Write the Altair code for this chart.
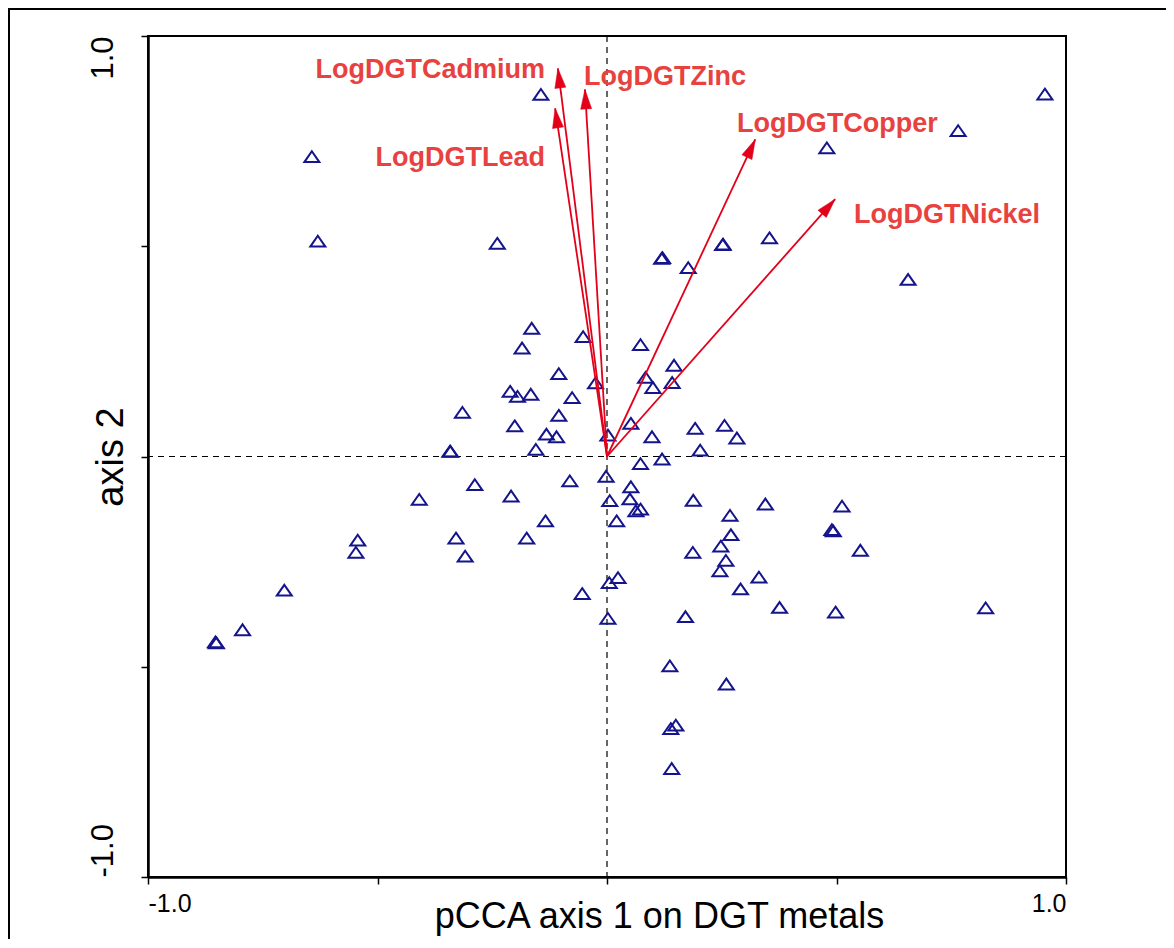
import math
import altair as alt
import pandas as pd

# ---------------- data ----------------
site_x = [-0.144, 0.954, 0.765, 0.479, -0.643, -0.630, -0.239, 0.253, 0.354, 0.121,
          0.177, 0.656, -0.164, -0.052, 0.073, -0.185, 0.146, -0.105, 0.084, -0.025,
          0.142, 0.100, -0.211, -0.195, -0.166, -0.076, -0.315, -0.105, -0.201, -0.132,
          -0.110, 0.002, 0.052, 0.192, 0.256, 0.098, 0.283, -0.155, -0.342, 0.203,
          0.120, 0.073, -0.002, -0.081, -0.288, 0.052, -0.409, -0.209, 0.006, 0.050,
          0.188, 0.345, 0.512, 0.073, 0.063, 0.268, -0.134, 0.021, 0.493, 0.490,
          0.270, -0.543, -0.547, -0.329, -0.175, -0.309, 0.248, 0.187, 0.552, 0.259,
          0.246, 0.331, 0.291, 0.024, 0.005, -0.054, -0.703, 0.376, 0.498, 0.825,
          0.002, 0.171, -0.794, -0.851, 0.137, 0.260, 0.150, 0.139, 0.141, 0.119,
          -0.853, 0.252, -0.341]
site_y = [0.861, 0.862, 0.775, 0.734, 0.713, 0.512, 0.507, 0.505, 0.520, 0.473,
          0.449, 0.421, 0.305, 0.285, 0.266, 0.258, 0.217, 0.197, 0.188, 0.175,
          0.176, 0.164, 0.155, 0.143, 0.148, 0.140, 0.105, 0.098, 0.073, 0.053,
          0.047, 0.051, 0.079, 0.067, 0.074, 0.047, 0.044, 0.017, 0.013, 0.015,
          -0.006, -0.017, -0.047, -0.058, -0.067, -0.072, -0.102, -0.094, -0.105, -0.101,
          -0.104, -0.113, -0.118, -0.125, -0.129, -0.140, -0.153, -0.153, -0.177, -0.174,
          -0.186, -0.199, -0.228, -0.194, -0.194, -0.237, -0.213, -0.228, -0.223, -0.247,
          -0.272, -0.287, -0.315, -0.288, -0.300, -0.326, -0.318, -0.359, -0.370, -0.360,
          -0.385, -0.381, -0.412, -0.443, -0.498, -0.541, -0.639, -0.647, -0.742, 0.471,
          -0.441, 0.504, 0.012]

var_names = ["LogDGTCadmium", "LogDGTZinc", "LogDGTLead", "LogDGTCopper", "LogDGTNickel"]
var_x = [-0.107, -0.048, -0.113, 0.323, 0.497]
var_y = [0.923, 0.873, 0.828, 0.754, 0.612]
label_x = [-0.135, -0.050, -0.135, 0.283, 0.538]
label_y = [0.900, 0.883, 0.691, 0.772, 0.555]
label_align = ["right", "left", "right", "left", "left"]

tick_values = [-1.0, -0.5, 0.0, 0.5, 1.0]
tick_labels = ["-1.0", "", "", "", "1.0"]

x_title = "pCCA axis 1 on DGT metals"
y_title = "axis 2"

# ---------------- layout ----------------
W, H = 918, 841
PAD_L, PAD_T, PAD_R, PAD_B = 140, 28, 100, 62
FONT = "Liberation Sans"
NAVY = "#14148c"
ARROW = "#e2001a"
LABEL = "#e8423f"

label_expr = " : ".join(
    f"datum.value == {v} ? '{t}'" for v, t in zip(tick_values, tick_labels) if t
) + " : ''"

sites = pd.DataFrame({"x": site_x, "y": site_y})

angles = [(math.degrees(math.atan2(vx * W / 2, vy * H / 2)) + 360) % 360
          for vx, vy in zip(var_x, var_y)]
arrows = pd.DataFrame({
    "name": var_names, "x": var_x, "y": var_y,
    "lx": label_x, "ly": label_y, "align": label_align,
    "angle": angles, "x0": [0.0] * 5, "y0": [0.0] * 5,
})
origin = pd.DataFrame({"x": [0.0], "y": [0.0]})

xs = alt.Scale(domain=[-1, 1], nice=False, zero=False)
ys = alt.Scale(domain=[-1, 1], nice=False, zero=False)

x_axis = alt.Axis(
    values=tick_values, labelExpr=label_expr, labelFlush=True, grid=False,
    domainColor="black", domainWidth=2.5, tickColor="black", tickWidth=1.5, tickSize=7,
    labelFont=FONT, labelFontSize=25, labelColor="black", labelPadding=7,
    labelBaseline="top",
    title=x_title, titleFont=FONT, titleFontSize=36, titleFontWeight="normal",
    titleColor="black", titleX=511, titleY=50, titleAlign="center",
    titleBaseline="alphabetic",
)
y_axis = alt.Axis(
    values=tick_values, labelExpr=label_expr, grid=False,
    domainColor="black", domainWidth=2.5, tickColor="black", tickWidth=1.5, tickSize=7,
    labelFont=FONT, labelFontSize=31, labelColor="black", labelPadding=29,
    labelAngle=270, labelBaseline="alphabetic",
    labelAlign={"expr": "datum.value > 0 ? 'right' : 'left'"},
    title=y_title, titleFont=FONT, titleFontSize=38, titleFontWeight="normal",
    titleColor="black", titleX=-26, titleY=H / 2, titleAngle=270, titleAlign="center",
    titleBaseline="alphabetic",
)


def X(field):
    return alt.X(field, type="quantitative", scale=xs, axis=x_axis)


def Y(field):
    return alt.Y(field, type="quantitative", scale=ys, axis=y_axis)


vline = alt.Chart(origin).mark_rule(color="black", strokeWidth=1.2, strokeDash=[6, 5]).encode(
    x=X("x"))
hline = alt.Chart(origin).mark_rule(color="black", strokeWidth=1.2, strokeDash=[6, 5]).encode(
    y=Y("y"))

points = alt.Chart(sites).mark_point(
    shape="M0,-0.72L1,0.72L-1,0.72Z", size=225, filled=False,
    stroke=NAVY, strokeWidth=2, opacity=1,
).encode(x=X("x"), y=Y("y"))

arrow_lines = alt.Chart(arrows).mark_rule(color=ARROW, strokeWidth=1.8).encode(
    x=X("x0"), y=Y("y0"), x2="x:Q", y2="y:Q",
)
arrow_heads = alt.Chart(arrows).mark_point(
    shape="M0,0L0.45,1.6L-0.45,1.6Z", size=600, filled=True,
    fill=ARROW, stroke=ARROW, strokeWidth=0.5, opacity=1,
).encode(
    x=X("x"), y=Y("y"),
    angle=alt.Angle("angle:Q", scale=None),
)


def label_layer(al):
    return alt.Chart(arrows).transform_filter(f"datum.align == '{al}'").mark_text(
        align=al, baseline="alphabetic", font=FONT, fontSize=27, fontWeight="bold",
        color=LABEL,
    ).encode(x=X("lx"), y=Y("ly"), text="name:N")


# outer figure frame (top and left edges of the page-size box)
frame_top = alt.Chart(origin).mark_rule(color="black", strokeWidth=2).encode(
    x=alt.value(-PAD_L), x2=alt.value(W + PAD_R + 10), y=alt.value(-PAD_T + 1))
frame_left = alt.Chart(origin).mark_rule(color="black", strokeWidth=2).encode(
    x=alt.value(-PAD_L + 1), y=alt.value(-PAD_T), y2=alt.value(H + PAD_B + 10))

chart = alt.layer(
    vline, hline, points, arrow_lines, arrow_heads,
    label_layer("right"), label_layer("left"), frame_top, frame_left,
).properties(
    width=W, height=H,
    background="white",
    autosize=alt.AutoSizeParams(type="none"),
    padding={"left": PAD_L, "top": PAD_T, "right": PAD_R, "bottom": PAD_B},
).configure_view(stroke="black", strokeWidth=2)

chart.save("out.html", embed_options={"renderer": "svg", "actions": False})
